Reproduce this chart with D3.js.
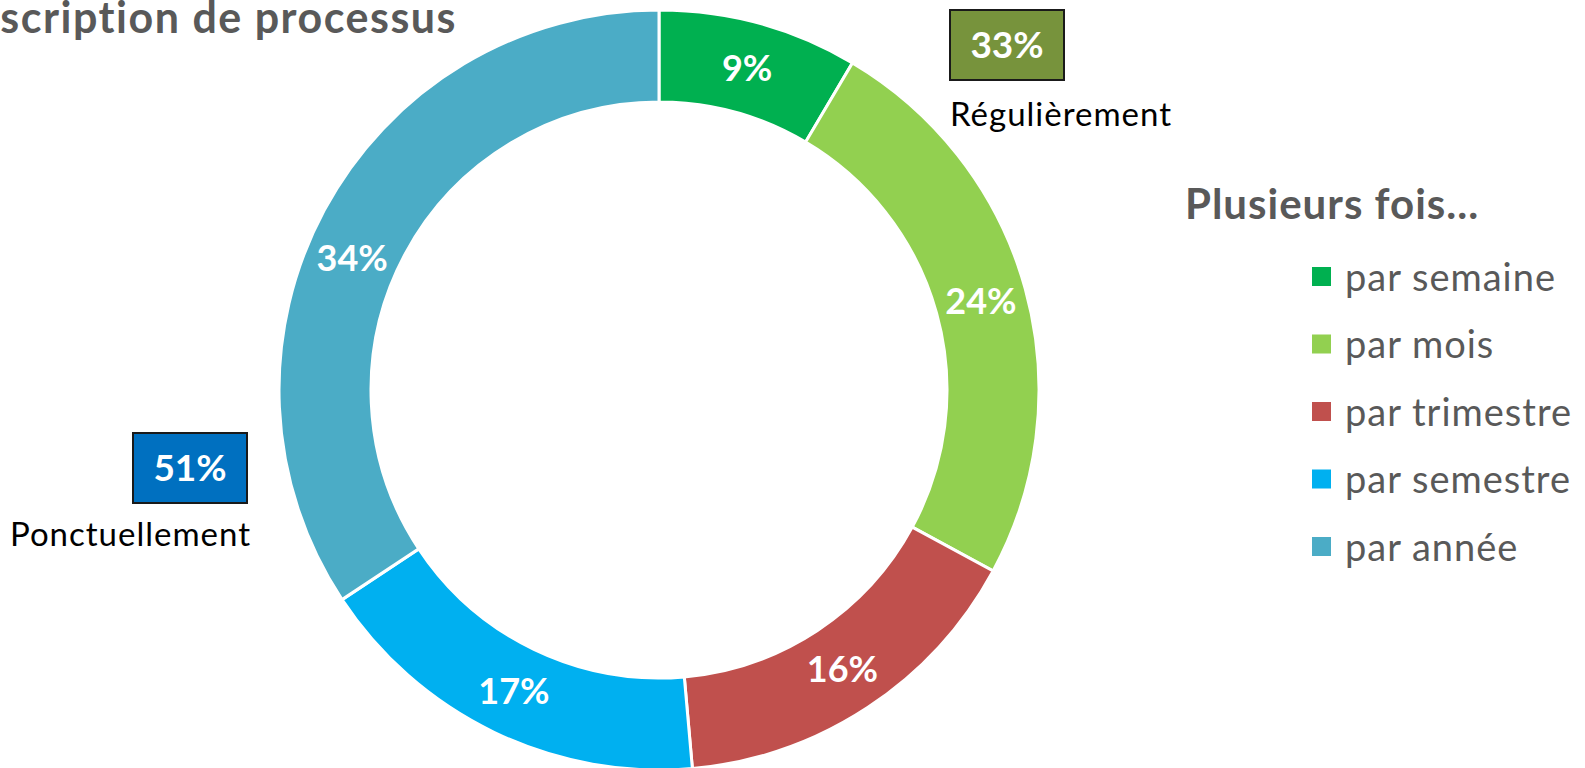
<!DOCTYPE html>
<html>
<head>
<meta charset="utf-8">
<script src="https://cdn.jsdelivr.net/npm/d3@7"></script>
<style>
  html, body { margin: 0; padding: 0; background: #fff; overflow: hidden; }
  svg { display: block; font-family: Lato, "Open Sans", sans-serif; }
</style>
</head>
<body>
<svg id="chart" width="1585" height="768"></svg>
<script>
// Données du graphique
const categories = ["par semaine", "par mois", "par trimestre", "par semestre", "par année"];
const values = [8.5, 24.4, 15.7, 17.1, 34.3];
const colors = ["#00B050", "#92D050", "#C0504D", "#00B0F0", "#4BACC6"];
const summaryLabels = ["Régulièrement", "Ponctuellement"];
const summaryValues = [33, 51];
const summaryColors = ["#77933C", "#0070C0"];
const title = "Description de processus";
const legendTitle = "Plusieurs fois...";

const svg = d3.select("#chart");
const gray = "#595959";

// Titre (coupé à gauche comme dans l'original)
svg.append("text")
    .attr("x", 457)
    .attr("y", 33)
    .attr("text-anchor", "end")
    .style("font-size", "43px")
    .style("letter-spacing", "1.5px")
    .style("font-weight", "bold")
    .style("fill", gray)
    .text(title);

// Anneau
const cx = 659, cy = 390;
const outerR = 380, innerR = 288;
const g = svg.append("g").attr("transform", `translate(${cx},${cy})`);

const pie = d3.pie().sort(null).value(d => d.value);
const arc = d3.arc().innerRadius(innerR).outerRadius(outerR);
const midR = (innerR + outerR) / 2;

// Décalage angulaire de certaines étiquettes (déplacées à la main dans l'original)
const labelShift = [0, 0, 0, 0, -5];

const pieData = pie(categories.map((c, i) => ({ category: c, value: values[i], color: colors[i] })));

g.selectAll("path")
    .data(pieData)
    .enter()
    .append("path")
    .attr("d", arc)
    .attr("fill", d => d.data.color)
    .attr("stroke", "white")
    .style("stroke-width", "3px");

g.selectAll(".label")
    .data(pieData)
    .enter()
    .append("text")
    .attr("class", "label")
    .attr("transform", (d, i) => {
        const a = (d.startAngle + d.endAngle) / 2 + labelShift[i] * Math.PI / 180;
        return `translate(${midR * Math.sin(a)},${-midR * Math.cos(a)})`;
    })
    .attr("dy", "0.36em")
    .attr("text-anchor", "middle")
    .style("font-size", "36px")
    .style("font-weight", "bold")
    .style("fill", "#fff")
    .text(d => Math.round(d.data.value) + "%");

// Encadrés de synthèse
const boxPos = [{ x: 950, y: 10 }, { x: 133, y: 433 }];
const labelPos = [{ x: 950, y: 126, anchor: "start" }, { x: 251, y: 546, anchor: "end" }];
const boxW = 114, boxH = 70;

summaryLabels.forEach((lab, i) => {
    svg.append("rect")
        .attr("x", boxPos[i].x)
        .attr("y", boxPos[i].y)
        .attr("width", boxW)
        .attr("height", boxH)
        .attr("fill", summaryColors[i])
        .attr("stroke", "#1a1a1a")
        .style("stroke-width", "2px");
    svg.append("text")
        .attr("x", boxPos[i].x + boxW / 2)
        .attr("y", boxPos[i].y + boxH / 2)
        .attr("dy", "0.36em")
        .attr("text-anchor", "middle")
        .style("font-size", "37px")
        .style("font-weight", "bold")
        .style("fill", "#fff")
        .text(summaryValues[i] + "%");
    svg.append("text")
        .attr("x", labelPos[i].x)
        .attr("y", labelPos[i].y)
        .attr("text-anchor", labelPos[i].anchor)
        .style("font-size", "33px")
        .style("letter-spacing", "1px")
        .style("fill", "#000")
        .text(lab);
});

// Légende
svg.append("text")
    .attr("x", 1185)
    .attr("y", 219)
    .style("font-size", "42px")
    .style("letter-spacing", "1px")
    .style("font-weight", "bold")
    .style("fill", gray)
    .text(legendTitle);

const legend = svg.selectAll(".legend")
    .data(categories)
    .enter()
    .append("g")
    .attr("class", "legend")
    .attr("transform", (d, i) => `translate(1312, ${267 + i * 67.5})`);

legend.append("rect")
    .attr("width", 19)
    .attr("height", 19)
    .attr("fill", (d, i) => colors[i]);

legend.append("text")
    .attr("x", 33)
    .attr("y", 10)
    .attr("dy", "0.36em")
    .style("font-size", "38px")
    .style("letter-spacing", "1px")
    .style("fill", gray)
    .text(d => d);
</script>
</body>
</html>
